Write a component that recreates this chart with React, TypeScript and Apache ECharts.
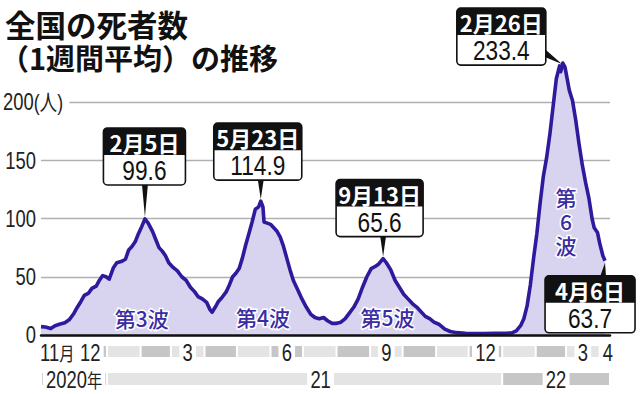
import React, { useEffect, useRef } from 'react';
import * as echarts from 'echarts';

// ---- data ----
const dates = [
  '2020-11-01','2020-11-05','2020-11-10','2020-11-14','2020-11-18','2020-11-23','2020-11-27',
  '2020-12-01','2020-12-04','2020-12-08','2020-12-11','2020-12-15','2020-12-18','2020-12-22','2020-12-25','2020-12-28','2020-12-31',
  '2021-01-03','2021-01-07','2021-01-10','2021-01-14','2021-01-18','2021-01-21','2021-01-24','2021-01-27','2021-01-30',
  '2021-02-02','2021-02-05','2021-02-08','2021-02-12','2021-02-15','2021-02-18','2021-02-21','2021-02-24','2021-02-27',
  '2021-03-03','2021-03-07','2021-03-11','2021-03-15','2021-03-19','2021-03-23','2021-03-26','2021-03-30',
  '2021-04-03','2021-04-06','2021-04-08','2021-04-11','2021-04-14','2021-04-17','2021-04-21','2021-04-24','2021-04-27','2021-04-30',
  '2021-05-03','2021-05-06','2021-05-09','2021-05-12','2021-05-15','2021-05-18','2021-05-21','2021-05-23','2021-05-25','2021-05-26','2021-05-29',
  '2021-06-01','2021-06-04','2021-06-07','2021-06-10','2021-06-13','2021-06-16','2021-06-19','2021-06-22','2021-06-26','2021-06-30',
  '2021-07-04','2021-07-08','2021-07-12','2021-07-16','2021-07-20','2021-07-24','2021-07-28',
  '2021-08-01','2021-08-05','2021-08-09','2021-08-13','2021-08-17','2021-08-21','2021-08-25','2021-08-29',
  '2021-09-02','2021-09-06','2021-09-09','2021-09-13','2021-09-16','2021-09-20','2021-09-24','2021-09-28',
  '2021-10-02','2021-10-06','2021-10-10','2021-10-14','2021-10-18','2021-10-22','2021-10-26','2021-10-30',
  '2021-11-04','2021-11-09','2021-11-14','2021-11-20','2021-11-28','2021-12-06','2021-12-15','2021-12-25',
  '2022-01-04','2022-01-10','2022-01-14','2022-01-18','2022-01-21','2022-01-24','2022-01-27','2022-01-30',
  '2022-02-02','2022-02-05','2022-02-08','2022-02-11','2022-02-14','2022-02-17','2022-02-20','2022-02-23','2022-02-24','2022-02-26','2022-02-28',
  '2022-03-02','2022-03-04','2022-03-07','2022-03-10','2022-03-13','2022-03-16','2022-03-19','2022-03-22','2022-03-25','2022-03-27','2022-03-30',
  '2022-04-01','2022-04-04','2022-04-06',
];
const deaths = [
  7.2, 6.8, 5.5, 8.0, 9.2, 10.5, 13.0,
  18, 23, 29, 34, 36, 40, 42, 47, 51, 50,
  48, 58, 62, 63, 65, 73, 76, 80, 87,
  93, 99.6, 96, 89, 82, 75, 72, 68, 62,
  58, 55, 50, 47, 41, 37, 33, 31,
  28, 22, 19.5, 24, 29, 32, 37, 43, 50, 53,
  57, 66, 77, 87, 97, 108, 110, 114.9, 110, 97, 96,
  95, 92, 89, 84, 76, 66, 56, 47, 39, 31,
  24, 18, 15, 14, 15, 12, 10,
  10, 11, 14, 19, 24, 31, 41, 50,
  57, 59, 61, 65.6, 62, 56, 47, 41,
  35, 31, 27, 24, 20, 16, 14, 11,
  9, 5, 3, 2, 1.5, 1.3, 1.2, 1.5,
  1.5, 1.8, 3.5, 8, 14, 25, 43, 66,
  87, 113, 136, 152, 172, 196, 220, 231, 226, 233.4, 230,
  220, 210, 201, 184, 164, 146, 131, 118, 100, 92, 88,
  79, 68, 63.7,
];

const months = [
  '2020-11','2020-12','2021-01','2021-02','2021-03','2021-04','2021-05','2021-06','2021-07',
  '2021-08','2021-09','2021-10','2021-11','2021-12','2022-01','2022-02','2022-03','2022-04',
];
const monthLabels = ['11月','12','','','3','','','6','','','9','','','12','','','3','4'];
const years = ['2020','2021','2022'];
const yearLabels = ['2020年','21','22'];

const yTicks = [0, 50, 100, 150, 200];
const yUnit = '(人)';

const calloutDates = ['2021-02-05','2021-05-23','2021-09-13','2022-02-26','2022-04-06'];
const calloutTitles = ['2月5日','5月23日','9月13日','2月26日','4月6日'];
const calloutValues = [99.6, 114.9, 65.6, 233.4, 63.7];

const waveNames = ['第3波','第4波','第5波','第6波'];
const waveAnchorDates = ['2021-02-02','2021-05-25','2021-09-17','2022-03-01'];
const waveAnchorValues = [14.5, 15.5, 15.5, 98];

const titleLines = ['全国の死者数', '（1週間平均）の推移'];

const xStart = '2020-11-01';
const xEnd = '2022-04-10';

// ---- helpers / layout ----
const ts = (s: string) => {
  const p = s.split('-').map(Number);
  return new Date(p[0], (p[1] || 1) - 1, p[2] || 1).getTime();
};
const LINE_COLOR = '#2d1a9c';
const FILL_COLOR = '#d8d3ee';
const WAVE_COLOR = '#3b2ca3';
const SANS = '"Liberation Sans", Arial, sans-serif';
const CJK = '"Noto Sans CJK JP", sans-serif';
const NARROW_SCALE = 0.8;

const CALLOUT_LAYOUT = [
  { w: 82, mode: 'below', dx: -0.5, gap: 34 },
  { w: 88, mode: 'below', dx: -3, gap: 21 },
  { w: 87, mode: 'below', dx: -3.5, gap: 22 },
  { w: 89, mode: 'left', dx: -17, dy: -55 },
  { w: 90, mode: 'above', dx: -60, dy: 15 },
];
const BOX_H = 57;
const HEAD_H = 27;

export default function App() {
  const ref = useRef<HTMLDivElement>(null);
  useEffect(() => {
    const el = ref.current!;
    const chart = echarts.init(el, null, { renderer: 'svg' });
    const xMax = ts(xEnd) + 14 * 3600 * 1000;
    chart.setOption({
      animation: false,
      grid: { left: 41, right: 30, top: 43.75, bottom: 59 },
      xAxis: {
        type: 'time',
        min: ts(xStart),
        max: xMax,
        z: 5,
        axisLine: { show: true, lineStyle: { color: '#111', width: 2.5 } },
        axisTick: { show: false },
        axisLabel: { show: false },
        splitLine: { show: false },
      },
      yAxis: {
        type: 'value',
        min: 0,
        max: 250,
        interval: 50,
        axisLine: { show: false },
        axisTick: { show: false },
        axisLabel: { show: false },
        splitLine: { show: true, showMaxLine: false, lineStyle: { color: '#b0b0b0', width: 1.3 } },
      },
      series: [
        {
          type: 'line',
          data: dates.map((d, i) => [ts(d), deaths[i]]),
          symbol: 'none',
          lineStyle: { color: LINE_COLOR, width: 3.6, join: 'round' },
          areaStyle: { color: FILL_COLOR, opacity: 1 },
          z: 3,
        },
      ],
    });

    const px = (t: number, v: number) => chart.convertToPixel({ gridIndex: 0 }, [t, v]) as number[];
    const xpx = (t: number) => px(t, 0)[0];
    const elements: any[] = [];

    // title
    elements.push({ type: 'text', x: 5, y: 23.5, z: 100, style: { text: titleLines[0], font: `bold 30.5px ${CJK}`, fill: '#111', verticalAlign: 'middle' } });
    elements.push({ type: 'text', x: 0, y: 57, z: 100, style: { text: titleLines[1], font: `bold 29px ${CJK}`, fill: '#111', verticalAlign: 'middle' } });

    // y-axis labels (narrow)
    yTicks.forEach((v, i) => {
      const y = px(ts(xStart), v)[1];
      if (i === yTicks.length - 1) {
        elements.push({
          type: 'text', x: 3, y, z: 100, scaleX: NARROW_SCALE,
          style: {
            text: String(v) + '{u|' + yUnit + '}', font: `23px ${SANS}`, fill: '#222', verticalAlign: 'middle',
            backgroundColor: '#fff', padding: [0, 8, 0, 0],
            rich: { u: { fontFamily: '"Liberation Sans", "Noto Sans CJK JP", sans-serif', fontSize: 22, fill: '#222' } },
          },
        });
      } else {
        elements.push({
          type: 'text', x: 36, y, z: 100, scaleX: NARROW_SCALE,
          style: { text: String(v), font: `23px ${SANS}`, fill: '#222', align: 'right', verticalAlign: 'middle' },
        });
      }
    });

    // month band row
    const axisEnd = xMax;
    months.forEach((m, i) => {
      const s = ts(m);
      const e = i + 1 < months.length ? ts(months[i + 1]) : axisEnd;
      const x0 = xpx(s);
      const x1 = xpx(Math.min(e, axisEnd));
      elements.push({ type: 'rect', z: 50, shape: { x: x0 + 1, y: 346, width: x1 - x0 - 2, height: 11 }, style: { fill: i % 2 === 1 ? '#c6c6c6' : '#e4e4e4' } });
      if (monthLabels[i]) {
        const lbl = monthLabels[i].replace('月', '{c|月}');
        elements.push({
          type: 'text', z: 60, x: (x0 + x1) / 2 + (i === months.length - 1 ? 3 : 0), y: 353, scaleX: NARROW_SCALE,
          style: {
            text: lbl, font: `23px ${SANS}`, fill: '#222', align: 'center', verticalAlign: 'middle',
            backgroundColor: '#fff', padding: [0, 4],
            rich: { c: { fontFamily: CJK, fontSize: 19, fill: '#222' } },
          },
        });
      }
    });
    // year band row
    years.forEach((y, i) => {
      const s = Math.max(ts(y + '-01-01'), ts(xStart));
      const e = i + 1 < years.length ? ts(years[i + 1] + '-01-01') : axisEnd;
      const x0 = xpx(s);
      const x1 = xpx(Math.min(e, axisEnd));
      elements.push({ type: 'rect', z: 50, shape: { x: x0 + 1, y: 373, width: x1 - x0 - 2, height: 12 }, style: { fill: i === 1 ? '#e4e4e4' : '#c6c6c6' } });
      const lbl = yearLabels[i].replace('年', '{c|年}');
      elements.push({
        type: 'text', z: 60, x: (x0 + x1) / 2 + (i === 1 ? 16 : 0), y: 380, scaleX: NARROW_SCALE,
        style: {
          text: lbl, font: `23px ${SANS}`, fill: '#222', align: 'center', verticalAlign: 'middle',
          backgroundColor: '#fff', padding: [0, 4],
          rich: { c: { fontFamily: CJK, fontSize: 19, fill: '#222' } },
        },
      });
    });

    // wave labels
    waveNames.forEach((name, i) => {
      const p = px(ts(waveAnchorDates[i]), waveAnchorValues[i]);
      const vertical = i === waveNames.length - 1;
      const chars = vertical ? name.split('') : [name];
      chars.forEach((c, k) => {
        elements.push({
          type: 'text', z: 70, x: p[0], y: p[1] + (k - (chars.length - 1) / 2) * 24,
          style: {
            text: c, font: `500 21px ${CJK}`, fill: WAVE_COLOR, align: 'center', verticalAlign: 'middle',
            stroke: '#fff', lineWidth: 3, lineHeight: 22,
          },
        });
      });
    });

    // callouts
    calloutDates.forEach((d, i) => {
      const p = px(ts(d), calloutValues[i]);
      const L: any = CALLOUT_LAYOUT[i];
      let bx = 0, by = 0;
      let pointer: number[][] = [];
      if (L.mode === 'below') {
        bx = p[0] + L.dx - L.w / 2;
        by = p[1] - L.gap - BOX_H;
        const bb = by + BOX_H - 1;
        pointer = [[p[0] - 3, bb], [p[0] + 3, bb], [p[0], p[1] - 2]];
      } else if (L.mode === 'left') {
        bx = p[0] + L.dx - L.w;
        by = p[1] + L.dy;
        const br = bx + L.w - 1;
        pointer = [[br, by + 41], [br, by + 49], [p[0] - 1, p[1] + 1]];
      } else {
        bx = p[0] + L.dx;
        by = p[1] + L.dy;
        pointer = [[p[0] - 5, by + 1], [p[0] + 1, by + 1], [p[0], p[1] + 2]];
      }
      elements.push({ type: 'polygon', z: 80, shape: { points: pointer }, style: { fill: '#111' } });
      elements.push({ type: 'rect', z: 81, shape: { x: bx, y: by, width: L.w, height: BOX_H, r: 4 }, style: { fill: '#fff', stroke: '#111', lineWidth: 1.6 } });
      elements.push({ type: 'rect', z: 82, shape: { x: bx, y: by, width: L.w, height: HEAD_H, r: [4, 4, 0, 0] }, style: { fill: '#111' } });
      elements.push({
        type: 'text', z: 83, x: bx + L.w / 2, y: by + HEAD_H / 2 + 0.5,
        style: { text: calloutTitles[i], font: `bold 22px ${CJK}`, fill: '#fff', align: 'center', verticalAlign: 'middle' },
      });
      elements.push({
        type: 'text', z: 83, x: bx + L.w / 2, y: by + HEAD_H + (BOX_H - HEAD_H) / 2 + 0.5, scaleX: 0.84,
        style: { text: calloutValues[i].toFixed(1), font: `27px ${SANS}`, fill: '#111', align: 'center', verticalAlign: 'middle' },
      });
    });

    chart.setOption({ graphic: { elements } });
    return () => chart.dispose();
  }, []);
  return <div ref={ref} style={{ position: 'absolute', left: 0, top: 0, width: 640, height: 394 }} />;
}
